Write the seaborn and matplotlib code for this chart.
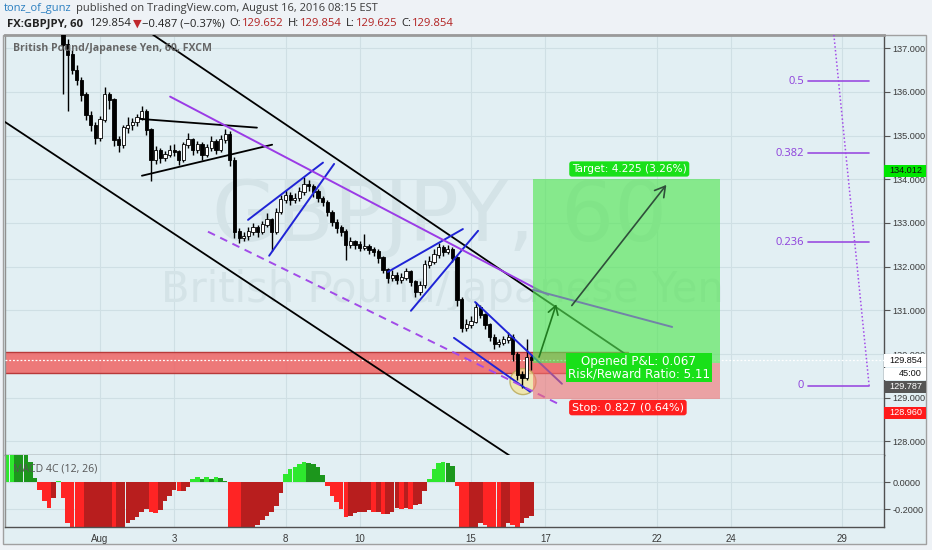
import matplotlib
matplotlib.use('Agg')
import matplotlib.pyplot as plt
import matplotlib.transforms as mtransforms
from matplotlib.patches import Rectangle, Ellipse
from matplotlib.ticker import FuncFormatter
import numpy as np
import pandas as pd
import seaborn as sns


# x axis counts trading days from Aug 1 (weekends dropped, like TradingView)
tick_days = [0, 2, 5, 7, 10, 12, 15, 17, 20]
tick_labels = ['Aug', '3', '8', '10', '15', '17', '22', '24', '29']
price_ticks = [128, 129, 130, 131, 132, 133, 134, 135, 136, 137]

# 3-hour candles, first one at day -1.0
candle_start = -1.0
candle_step = 0.125
first_open = 137.35
closes = [
    137.08, 136.85, 136.50, 136.27, 135.93, 135.47, 135.24, 134.95, 135.36, 135.93,
    135.82, 134.90, 134.79, 135.18, 135.24, 135.31, 135.41, 135.54, 135.13, 134.44,
    134.67, 134.49, 134.56, 134.67, 134.63, 134.44, 134.79, 134.90, 134.67, 134.79,
    134.56, 134.72, 134.86, 134.67, 134.90, 135.02, 134.44, 132.80, 132.66, 132.70,
    132.80, 132.89, 132.80, 132.96, 133.07, 132.80, 133.25, 133.53, 133.64, 133.53,
    133.57, 133.71, 133.87, 133.84, 133.71, 133.57, 133.48, 133.25, 133.02, 132.89,
    132.80, 132.50, 132.57, 132.50, 132.43, 132.46, 132.39, 132.34, 132.20, 131.93,
    131.75, 131.81, 131.70, 131.75, 131.88, 131.65, 131.42, 131.58, 132.04, 132.11,
    132.27, 132.43, 132.34, 132.39, 132.20, 131.24, 130.60, 130.67, 130.74, 131.06,
    130.90, 130.67, 130.38, 130.22, 130.26, 130.33, 130.38, 129.99, 129.53, 129.46,
    129.92, 129.854,
]
highs = [
    137.45, 137.20, 136.95, 136.62, 136.35, 136.00, 135.55, 135.30, 135.45, 136.10,
    136.00, 135.85, 134.98, 135.25, 135.42, 135.40, 135.50, 135.68, 135.60, 135.18,
    134.75, 134.72, 134.65, 134.78, 134.80, 134.68, 134.85, 135.05, 134.95, 134.88,
    134.85, 134.80, 135.00, 134.92, 135.02, 135.15, 135.10, 134.50, 132.88, 132.80,
    132.90, 133.00, 132.95, 133.05, 133.22, 133.12, 133.35, 133.65, 133.75, 133.70,
    133.68, 133.82, 134.05, 133.98, 133.90, 133.78, 133.62, 133.52, 133.30, 133.08,
    132.95, 132.85, 132.68, 132.62, 132.58, 132.75, 132.52, 132.45, 132.40, 132.25,
    131.98, 131.92, 131.88, 131.85, 131.98, 131.92, 131.70, 131.68, 132.15, 132.25,
    132.40, 132.55, 132.50, 132.50, 132.45, 132.25, 131.30, 130.80, 130.88, 131.20,
    131.12, 130.95, 130.72, 130.45, 130.35, 130.42, 130.50, 130.45, 130.05, 129.62,
    130.35, 129.98,
]
lows = [
    135.95, 135.55, 136.40, 136.15, 135.80, 135.35, 135.10, 134.80, 134.88, 135.30,
    135.60, 134.75, 134.62, 134.72, 135.05, 135.12, 135.22, 135.35, 135.02, 133.95,
    134.35, 134.38, 134.42, 134.50, 134.52, 134.32, 134.40, 134.72, 134.55, 134.60,
    134.45, 134.50, 134.65, 134.58, 134.62, 134.82, 134.30, 132.65, 132.55, 132.58,
    132.62, 132.72, 132.68, 132.75, 132.90, 132.35, 132.75, 133.20, 133.45, 133.40,
    133.45, 133.50, 133.65, 133.72, 133.60, 133.48, 133.38, 133.15, 132.92, 132.78,
    132.70, 132.15, 132.42, 132.40, 132.35, 132.38, 132.30, 132.25, 132.08, 131.85,
    131.62, 131.68, 131.60, 131.62, 131.70, 131.55, 131.30, 131.35, 131.52, 131.98,
    132.05, 132.20, 132.25, 132.28, 132.10, 131.10, 130.50, 130.52, 130.60, 130.70,
    130.82, 130.58, 130.30, 130.12, 130.15, 130.20, 130.25, 129.85, 129.40, 129.22,
    129.40, 129.625,
]

# MACD 4C histogram, same 3-hour steps, first bar at day -2.5
macd_start = -2.5
macd_hist = [
    0.24, 0.25, 0.24, 0.22, 0.20, 0.15, 0.03, -0.06, -0.14, -0.19,
    -0.12, 0.01, -0.12, -0.30, -0.40, -0.46, -0.50, -0.50, -0.48, -0.46,
    -0.42, -0.40, -0.40, -0.42, -0.36, -0.34, -0.30, -0.28, -0.26, -0.22,
    -0.20, -0.22, -0.23, -0.21, -0.14, -0.10, -0.06, -0.07, -0.07, -0.04,
    0.02, 0.035, 0.025, 0.04, 0.02, 0.035, 0.03, 0.01, -0.34, -0.45,
    -0.50, -0.48, -0.42, -0.36, -0.32, -0.28, -0.25, -0.22, -0.18, -0.08,
    0.06, 0.10, 0.11, 0.13, 0.145, 0.14, 0.13, 0.11, 0.05, -0.03,
    -0.10, -0.15, -0.20, -0.26, -0.25, -0.23, -0.22, -0.22, -0.21, -0.22,
    -0.22, -0.24, -0.24, -0.22, -0.19, -0.20, -0.19, -0.20, -0.17, -0.16,
    -0.07, 0.02, 0.10, 0.14, 0.15, 0.14, 0.12, -0.03, -0.40, -0.42,
    -0.38, -0.34, -0.30, -0.32, -0.35, -0.37, -0.38, -0.33, -0.30, -0.32,
    -0.34, -0.30, -0.27, -0.25,
]

# drawings on the chart, (day, price) end points
black_lines = [
    [(1.43, 137.305), (14.15, 130.005)],
    [(-2.56, 135.31), (11.05, 127.67)],
    [(1.08, 135.38), (4.23, 135.18)],
    [(1.13, 134.08), (4.64, 134.79)],
]
blue_lines = [
    [(3.99, 133.07), (6.01, 134.38)],
    [(4.56, 132.25), (6.31, 134.35)],
    [(7.76, 131.88), (9.78, 132.86)],
    [(8.38, 130.99), (10.19, 132.82)],
    [(10.11, 131.19), (12.45, 129.32)],
    [(9.54, 130.37), (11.59, 129.14)],
]
purple_line = [(1.89, 135.89), (12.08, 131.35)]
purple_dashed = [(2.91, 132.80), (12.40, 128.84)]
slate_line = [(11.67, 131.47), (15.42, 130.62)]
green_arrow = [(11.81, 129.87), (12.32, 131.20)]
dark_arrow = [(12.67, 131.06), (15.31, 133.92)]
circle_center = (11.40, 129.37)

zone_low, zone_high = 129.57, 130.05
zone_start, zone_end = -2.56, 14.23

pos_start, pos_end = 11.67, 16.71
entry, target, stop = 129.787, 134.012, 128.960
last_close = 129.854

fib_ratios = [0, 0.236, 0.382, 0.5]
fib_base, fib_span = 129.27, 13.94
fib_left, fib_right = 19.08, 20.73

price_tags = [
    ('134.012', 134.19, '#111111', '#00e600'),
    ('129.854', 129.854, '#111111', '#ffffff'),
    ('45:00', 129.547, '#111111', '#ffffff'),
    ('129.787', 129.25, '#ffffff', '#555555'),
    ('128.960', 128.655, '#ffffff', '#ff1a1a'),
]

W, H = 932, 550
sns.set_theme(style='white')
plt.rcParams['font.family'] = ['Open Sans', 'DejaVu Sans']
axis_font = ['Liberation Sans', 'DejaVu Sans']

chart_bg = '#e2eff3'
fig = plt.figure(figsize=(W / 100, H / 100), dpi=100)
fig.patch.set_facecolor('#eef2f6')
fig.add_artist(Rectangle((3 / W, 1 - 544 / H), 923 / W, 509 / H,
                         transform=fig.transFigure, facecolor=chart_bg,
                         edgecolor='#a0a0a0', lw=1, zorder=0))

ax = fig.add_axes([5 / W, 1 - 455 / H, 879 / W, 420 / H])
ax2 = fig.add_axes([5 / W, 1 - 527 / H, 879 / W, 72 / H])
for a in (ax, ax2):
    a.set_facecolor(chart_bg)
    a.grid(True, color='#cfdfe4', lw=0.8)
    a.set_axisbelow(True)

# watermark
ax.text(9.16, 133.12, 'GBPJPY, 60', fontsize=60, color='#d4e3e7',
        family='DejaVu Sans', ha='center', va='center', zorder=1)
ax.text(9.22, 131.47, 'British Pound/Japanese Yen', fontsize=30,
        color='#d4e3e7', family='DejaVu Sans', ha='center', va='center',
        zorder=1)

# support / resistance zone and live price line
ax.add_patch(Rectangle((zone_start, zone_low), zone_end - zone_start,
                       zone_high - zone_low, facecolor='#ef6464', alpha=0.85,
                       edgecolor='none', zorder=2))
for lvl in (zone_low, zone_high):
    ax.plot([zone_start, zone_end], [lvl, lvl], color='#b83a3a', lw=1, zorder=2.1)
ax.axhline(last_close, color='white', lw=0.9, ls=(0, (1.5, 1.5)), zorder=2.6)

ax.add_patch(Ellipse(circle_center, 26 / 37.1, 26 / 43.7, facecolor='#f3e39a',
                     alpha=0.75, edgecolor='#b5a24a', lw=1, zorder=2.8))

# candles
days = candle_start + candle_step * np.arange(len(closes))
candles = pd.DataFrame({'day': days, 'open': [first_open] + closes[:-1],
                        'high': highs, 'low': lows, 'close': closes})
up = candles['close'] >= candles['open']
ax.vlines(candles['day'], candles['low'], candles['high'], color='black',
          lw=1.0, zorder=3)
ax.bar(candles['day'], (candles['close'] - candles['open']).abs() + 0.01,
       bottom=candles[['open', 'close']].min(axis=1), width=candle_step * 0.7,
       color=np.where(up, 'white', 'black'), edgecolor='black', linewidth=0.6,
       zorder=3.1)

# trend lines
for (d0, p0), (d1, p1) in black_lines:
    ax.plot([d0, d1], [p0, p1], color='black', lw=1.3, zorder=4)
for (d0, p0), (d1, p1) in blue_lines:
    ax.plot([d0, d1], [p0, p1], color='#1f24d6', lw=1.4, zorder=4)
ax.plot(*zip(*purple_line), color='#9b3be6', lw=1.4, zorder=4)
ax.plot(*zip(*purple_dashed), color='#a24be8', lw=1.4, ls=(0, (4, 3)), zorder=4)

# long position tool
ax.add_patch(Rectangle((pos_start, entry), pos_end - pos_start, target - entry,
                       facecolor='#55e655', alpha=0.65, edgecolor='none', zorder=4.5))
ax.add_patch(Rectangle((pos_start, stop), pos_end - pos_start, entry - stop,
                       facecolor='#f07070', alpha=0.6, edgecolor='none', zorder=4.5))
ax.plot(*zip(*slate_line), color='#7283a8', lw=1.4, zorder=6)
ax.annotate('', xy=green_arrow[1], xytext=green_arrow[0],
            arrowprops=dict(arrowstyle='->,head_length=0.5,head_width=0.3',
                            color='#1f7a1f', lw=1.2), zorder=6)
ax.annotate('', xy=dark_arrow[1], xytext=dark_arrow[0],
            arrowprops=dict(arrowstyle='->,head_length=0.6,head_width=0.35',
                            color='#2f4f3a', lw=1.2), zorder=6)

mid = (pos_start + pos_end) / 2
box_style = 'round,pad=0.25,rounding_size=0.25'
ax.annotate('Target: 4.225 (3.26%)', (mid, target), xytext=(2, 7),
            textcoords='offset points', ha='center', va='center', color='white',
            fontsize=7.6, family='DejaVu Sans', zorder=8,
            bbox=dict(boxstyle=box_style, fc='#19e019', ec='none'))
ax.annotate('Opened P&L: 0.067\nRisk/Reward Ratio: 5.11', (mid, entry),
            xytext=(9, -3.3), textcoords='offset points', ha='center',
            va='center', color='white', fontsize=8.6, linespacing=0.95,
            family='DejaVu Sans', zorder=8,
            bbox=dict(boxstyle='square,pad=0.15', fc='#19e019', ec='none'))
ax.annotate('Stop: 0.827 (0.64%)', (mid, stop), xytext=(1, -5.8),
            textcoords='offset points', ha='center', va='center', color='white',
            fontsize=8, family='DejaVu Sans', zorder=8,
            bbox=dict(boxstyle=box_style, fc='#ff1f1f', ec='none'))

# fibonacci retracement
for r in fib_ratios:
    p = fib_base + r * fib_span
    ax.plot([fib_left, fib_right], [p, p], color='#9a4de0', lw=1.2, zorder=4)
    ax.annotate(f'{r:g}', (fib_left, p), xytext=(-3, 0), textcoords='offset points',
                ha='right', va='center', color='#8d3fdb', fontsize=8, zorder=5)
ax.plot([fib_right, fib_left], [fib_base, fib_base + fib_span], color='#a24be8',
        lw=1.1, ls=(0, (1, 1.5)), zorder=4)

ax.set_xlim(-2.56, 21.13)
ax.set_ylim(127.69, 137.30)
ax.set_xticks(tick_days)
ax.yaxis.tick_right()
ax.set_yticks(price_ticks)
ax.yaxis.set_major_formatter(FuncFormatter(lambda v, _: f'{v:.3f}'))
ax.tick_params(axis='x', length=0, labelbottom=False)
ax.tick_params(axis='y', length=4, width=0.8, color='#555555', labelsize=6.6,
               labelcolor='#3a3a3a', pad=2, labelfontfamily=axis_font)
ax.text(8 / 879, 1 - 13 / 420, 'British Pound/Japanese Yen, 60, FXCM',
        transform=ax.transAxes, ha='left', va='center', fontsize=7.6,
        fontweight='bold', color='#666666', zorder=10)

# price tags on the scale
tag_trans = mtransforms.blended_transform_factory(ax.transAxes, ax.transData)
for txt, p, fg, bg in price_tags:
    ax.add_patch(Rectangle((1.0, p - 0.14), 42 / 879, 0.28, transform=tag_trans,
                           facecolor=bg, edgecolor='none', clip_on=False, zorder=9))
    if ':' in txt:
        ax.text(1 + 38 / 879, p, txt, transform=tag_trans, ha='right', va='center',
                fontsize=6.6, color=fg, family=axis_font, clip_on=False, zorder=10)
    else:
        ax.text(1 + 5 / 879, p, txt, transform=tag_trans, ha='left', va='center',
                fontsize=6.6, color=fg, family=axis_font, clip_on=False, zorder=10)

# MACD 4C histogram
macd = pd.DataFrame({'day': macd_start + candle_step * np.arange(len(macd_hist)),
                     'hist': macd_hist})
rising = macd['hist'].diff().fillna(0) >= 0
macd['kind'] = np.where(macd['hist'] >= 0,
                        np.where(rising, 'up_rise', 'up_fall'),
                        np.where(rising, 'down_rise', 'down_fall'))
palette = {'up_rise': '#2ee82e', 'up_fall': '#1c961c',
           'down_fall': '#ff2424', 'down_rise': '#b81e1e'}
sns.barplot(data=macd, x='day', y='hist', hue='kind', palette=palette,
            native_scale=True, dodge=False, width=0.98, saturation=1,
            errorbar=None, legend=False, linewidth=0, orient='x', ax=ax2)
ax2.set_xlabel('')
ax2.set_ylabel('')
ax2.set_xlim(-2.56, 21.13)
ax2.set_ylim(-0.333, 0.2)
ax2.set_xticks(tick_days)
ax2.set_xticklabels(tick_labels)
ax2.yaxis.tick_right()
ax2.set_yticks([0, -0.2])
ax2.yaxis.set_major_formatter(FuncFormatter(lambda v, _: f'{v:.4f}'))
ax2.tick_params(axis='y', length=4, width=0.8, color='#555555', labelsize=6.6,
                labelcolor='#3a3a3a', pad=2, labelfontfamily=axis_font)
ax2.tick_params(axis='x', length=3, width=0.8, color='#555555', labelsize=7,
                labelcolor='#3a3a3a', pad=2,
                labelfontfamily=['Liberation Sans Narrow', 'Liberation Sans'])
ax2.text(8 / 879, 0.806, 'MACD 4C (12, 26)', transform=ax2.transAxes, ha='left',
         va='center', fontsize=7.6, color='#555555', zorder=10)

for a in (ax, ax2):
    a.spines['left'].set_color('#909090')
    a.spines['right'].set_color('#505050')
    a.spines['bottom'].set_color('#505050')
    a.spines['top'].set_color('#505050')
    for s in a.spines.values():
        s.set_linewidth(1)
ax.spines['top'].set_color('#9a9a9a')
ax.spines['top'].set_linewidth(2)
ax2.spines['top'].set_visible(False)

# header lines
renderer = fig.canvas.get_renderer()


def put_pieces(x_px, y_px, pieces, size):
    for txt, color, weight, gap in pieces:
        t = fig.text(x_px / W, 1 - y_px / H, txt, color=color, fontsize=size,
                     fontweight=weight, ha='left', va='center')
        x_px += t.get_window_extent(renderer).width + gap


put_pieces(4, 9, [('tonz_of_gunz', '#2b7fc0', 'normal', 4),
                  ('published on TradingView.com, August 16, 2016 08:15 EST',
                   '#3c3c3c', 'normal', 0)], 8.0)
dark, red = '#222222', '#b22222'
put_pieces(7, 24, [('FX:GBPJPY, 60', dark, 'bold', 7),
                   ('129.854', dark, 'normal', 1),
                   ('\u25bc', '#c0282d', 'normal', 1),
                   ('\u22120.487 (\u22120.37%)', dark, 'normal', 4),
                   ('O:', dark, 'normal', 1), ('129.652', red, 'normal', 4),
                   ('H:', dark, 'normal', 1), ('129.854', red, 'normal', 4),
                   ('L:', dark, 'normal', 1), ('129.625', red, 'normal', 4),
                   ('C:', dark, 'normal', 1), ('129.854', red, 'normal', 0)], 8.1)

fig.savefig('out.png', dpi=100, facecolor=fig.get_facecolor())
